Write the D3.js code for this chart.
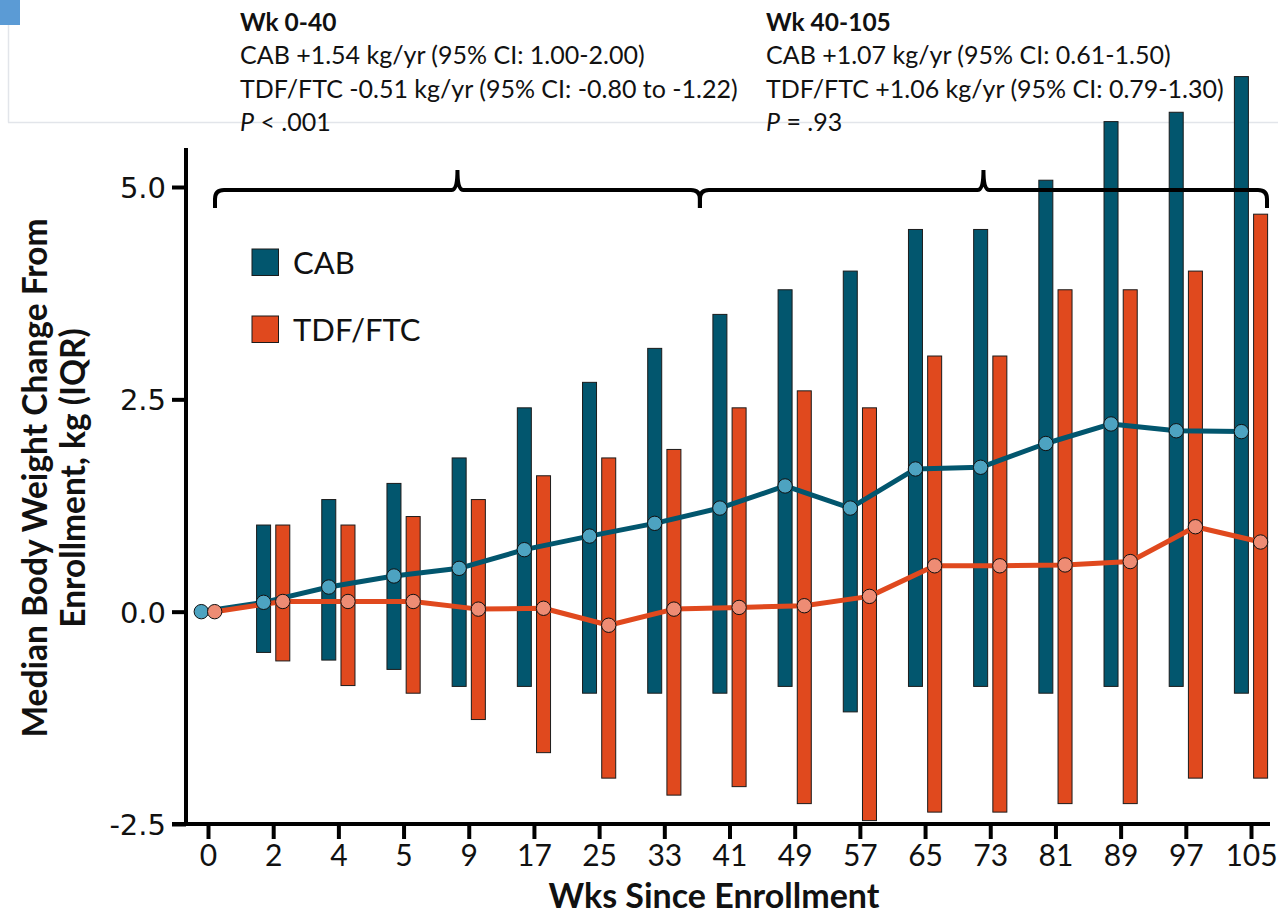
<!DOCTYPE html>
<html>
<head>
<meta charset="utf-8">
<script src="https://cdn.jsdelivr.net/npm/d3@7"></script>
<style>
  html, body { margin: 0; padding: 0; background: #fff; }
  svg { display: block; }
</style>
</head>
<body>
<svg id="chart" width="1278" height="917"></svg>
<script>
// ---------------- data ----------------
const weeks = ["0","2","4","5","9","17","25","33","41","49","57","65","73","81","89","97","105"];
const cabMedian = [0.00, 0.11, 0.29, 0.42, 0.51, 0.73, 0.89, 1.04, 1.22, 1.48, 1.22, 1.68, 1.70, 1.98, 2.21, 2.13, 2.12];
const cabQ1 =     [null, -0.48, -0.57, -0.68, -0.88, -0.88, -0.96, -0.96, -0.96, -0.88, -1.18, -0.88, -0.88, -0.96, -0.88, -0.88, -0.96];
const cabQ3 =     [null, 1.02, 1.32, 1.51, 1.81, 2.40, 2.70, 3.10, 3.50, 3.79, 4.01, 4.50, 4.50, 5.08, 5.77, 5.88, 6.30];
const tdfMedian = [0.00, 0.12, 0.12, 0.12, 0.03, 0.04, -0.16, 0.03, 0.05, 0.07, 0.18, 0.54, 0.54, 0.55, 0.59, 1.00, 0.82];
const tdfQ1 =     [null, -0.58, -0.87, -0.96, -1.27, -1.66, -1.96, -2.16, -2.06, -2.26, -2.46, -2.36, -2.36, -2.26, -2.26, -1.96, -1.96];
const tdfQ3 =     [null, 1.02, 1.02, 1.12, 1.32, 1.60, 1.81, 1.91, 2.40, 2.60, 2.40, 3.01, 3.01, 3.79, 3.79, 4.01, 4.68];
const yTicks = [-2.5, 0.0, 2.5, 5.0];
const seriesNames = ["CAB", "TDF/FTC"];
const yTitleLines = ["Median Body Weight Change From", "Enrollment, kg (IQR)"];
const xTitle = "Wks Since Enrollment";
const annoLeft = { head: "Wk 0-40", l1: "CAB +1.54 kg/yr (95% CI: 1.00-2.00)", l2: "TDF/FTC -0.51 kg/yr (95% CI: -0.80 to -1.22)", p: " < .001" };
const annoRight = { head: "Wk 40-105", l1: "CAB +1.07 kg/yr (95% CI: 0.61-1.50)", l2: "TDF/FTC +1.06 kg/yr (95% CI: 0.79-1.30)", p: " = .93" };

// ---------------- styles ----------------
const CAB_BAR = "#02566E", TDF_BAR = "#E0491E";
const CAB_DOT = "#4DA3C1", TDF_DOT = "#EE8C74";
const FONT = "Lato, 'Noto Sans', sans-serif";

const svg = d3.select("#chart");

const x = d3.scalePoint().domain(weeks).range([208, 1251]);
const y = d3.scaleLinear().domain([-2.5, 5]).range([824, 187]);
const barW = 14, off = 9.6;

// slide artifacts
svg.append("rect").attr("x", 0).attr("y", 0).attr("width", 20).attr("height", 25).attr("fill", "#5B9BD5");
svg.append("line").attr("x1", 8.5).attr("x2", 8.5).attr("y1", 25).attr("y2", 122.5).attr("stroke", "#e2e5ea").attr("stroke-width", 1.5);
svg.append("line").attr("x1", 8).attr("x2", 1278).attr("y1", 122.5).attr("y2", 122.5).attr("stroke", "#e2e5ea").attr("stroke-width", 1.5);

// annotations
function anno(g, a, x0) {
  const t = g.append("g").attr("font-family", FONT).attr("fill", "#111");
  t.append("text").attr("x", x0).attr("y", 31).attr("font-size", 24.5).attr("font-weight", 700).text(a.head);
  t.append("text").attr("x", x0).attr("y", 64).attr("font-size", 25).text(a.l1);
  t.append("text").attr("x", x0).attr("y", 98).attr("font-size", 25).text(a.l2);
  const p = t.append("text").attr("x", x0).attr("y", 131).attr("font-size", 25);
  p.append("tspan").attr("font-style", "italic").text("P");
  p.append("tspan").text(a.p);
}
anno(svg, annoLeft, 240);
anno(svg, annoRight, 766);

// bars
const idx = d3.range(weeks.length).filter(i => cabQ1[i] !== null);
const gb = svg.append("g");
gb.selectAll(".cab").data(idx).join("rect")
  .attr("x", i => x(weeks[i]) - off - barW / 2)
  .attr("y", i => y(cabQ3[i]))
  .attr("width", barW)
  .attr("height", i => y(cabQ1[i]) - y(cabQ3[i]))
  .attr("fill", CAB_BAR).attr("stroke", "#1b1b1b").attr("stroke-width", 1);
gb.selectAll(".tdf").data(idx).join("rect")
  .attr("x", i => x(weeks[i]) + off - barW / 2)
  .attr("y", i => y(tdfQ3[i]))
  .attr("width", barW)
  .attr("height", i => y(tdfQ1[i]) - y(tdfQ3[i]))
  .attr("fill", TDF_BAR).attr("stroke", "#1b1b1b").attr("stroke-width", 1);

// offsets for points (week 0 has no bars, points sit closer)
const dx = (i, s) => (cabQ1[i] === null ? 6.7 : off) * s;

// lines
const line = (arr, s) => d3.line().x((d, i) => x(weeks[i]) + dx(i, s)).y(d => y(d))(arr);
svg.append("path").attr("d", line(cabMedian, -1)).attr("fill", "none").attr("stroke", CAB_BAR).attr("stroke-width", 5).attr("stroke-linejoin", "round");
svg.append("path").attr("d", line(tdfMedian, 1)).attr("fill", "none").attr("stroke", TDF_BAR).attr("stroke-width", 5).attr("stroke-linejoin", "round");

// markers
svg.append("g").selectAll("circle").data(cabMedian).join("circle")
  .attr("cx", (d, i) => x(weeks[i]) + dx(i, -1)).attr("cy", d => y(d)).attr("r", 7.2)
  .attr("fill", CAB_DOT).attr("stroke", "#111").attr("stroke-width", 1);
svg.append("g").selectAll("circle").data(tdfMedian).join("circle")
  .attr("cx", (d, i) => x(weeks[i]) + dx(i, 1)).attr("cy", d => y(d)).attr("r", 7.2)
  .attr("fill", TDF_DOT).attr("stroke", "#111").attr("stroke-width", 1);

// braces
function brace(a, b, y0) {
  const c = (a + b) / 2, h = 18, r = 9, pk = 20;
  return `M${a},${y0 + h} L${a},${y0 + r} Q${a},${y0} ${a + r},${y0} L${c - 6},${y0} Q${c},${y0} ${c},${y0 - pk} Q${c},${y0} ${c + 6},${y0} L${b - r},${y0} Q${b},${y0} ${b},${y0 + r} L${b},${y0 + h}`;
}
const bStart = x("0") + 7, bMid = (x("33") + x("41")) / 2 + 3, bEnd = x("105") + 16;
svg.append("path").attr("d", brace(bStart, bMid, 190)).attr("fill", "none").attr("stroke", "#000").attr("stroke-width", 4);
svg.append("path").attr("d", brace(bMid, bEnd, 190)).attr("fill", "none").attr("stroke", "#000").attr("stroke-width", 4);

// y axis
const yAxis = svg.append("g").attr("transform", "translate(186,0)")
  .call(d3.axisLeft(y).tickValues(yTicks).tickFormat(d => d3.format(".1f")(d).replace("\u2212", "-")).tickSize(14).tickSizeOuter(0));
yAxis.select(".domain").remove();
yAxis.selectAll(".tick line").attr("stroke", "#000").attr("stroke-width", 4);
yAxis.selectAll(".tick text").attr("font-family", "'DejaVu Sans', sans-serif").attr("font-size", 29).attr("fill", "#111").attr("x", -20).attr("dy", "0.36em");
svg.append("line").attr("x1", 186).attr("x2", 186).attr("y1", 148).attr("y2", 826).attr("stroke", "#000").attr("stroke-width", 4);

// x axis
const xAxis = svg.append("g").attr("transform", "translate(0,824)")
  .call(d3.axisBottom(x).tickSize(15).tickSizeOuter(0));
xAxis.select(".domain").remove();
xAxis.selectAll(".tick line").attr("stroke", "#000").attr("stroke-width", 4);
xAxis.selectAll(".tick text").attr("font-family", FONT).attr("font-size", 30).attr("fill", "#111").attr("y", 21).attr("dy", "0.71em");
svg.append("line").attr("x1", 172).attr("x2", 1270).attr("y1", 824).attr("y2", 824).attr("stroke", "#000").attr("stroke-width", 4);

// axis titles
svg.append("text").attr("x", 714).attr("y", 908).attr("text-anchor", "middle")
  .attr("font-family", FONT).attr("font-weight", 700).attr("font-size", 34).attr("fill", "#111").text(xTitle);
const yt = svg.append("text").attr("transform", "translate(0,478) rotate(-90)").attr("text-anchor", "middle")
  .attr("font-family", FONT).attr("font-weight", 700).attr("font-size", 33.5).attr("fill", "#111");
yt.append("tspan").attr("x", 0).attr("y", 47).text(yTitleLines[0]);
yt.append("tspan").attr("x", 0).attr("y", 85).text(yTitleLines[1]);

// legend
const lg = svg.append("g").attr("font-family", FONT);
const legColors = [CAB_BAR, TDF_BAR];
seriesNames.forEach((n, i) => {
  const yy = 249 + i * 67;
  lg.append("rect").attr("x", 252).attr("y", yy).attr("width", 26.5).attr("height", 26.5).attr("fill", legColors[i]).attr("stroke", "#1b1b1b").attr("stroke-width", 1);
  lg.append("text").attr("x", 293).attr("y", yy + 25).attr("font-size", 31).attr("fill", "#111").text(n);
});
</script>
</body>
</html>
